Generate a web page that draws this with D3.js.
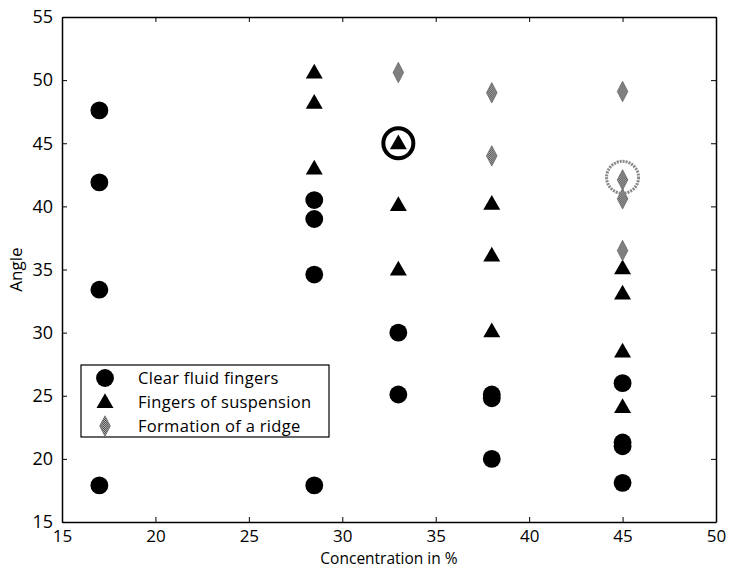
<!DOCTYPE html>
<html>
<head>
<meta charset="utf-8">
<script src="https://cdn.jsdelivr.net/npm/d3@7"></script>
<style>
  body { margin: 0; background: #fff; }
  svg text { font-family: "Open Sans", "DejaVu Sans", sans-serif; fill: #000; }
</style>
</head>
<body>
<div class="content"></div>
<script>
// data: [concentration %, angle]
const clearFluid = [
  [17, 47.6], [17, 41.9], [17, 33.4], [17, 17.9],
  [28.5, 40.5], [28.5, 39.0], [28.5, 34.6], [28.5, 17.9],
  [33, 30.0], [33, 25.1],
  [38, 25.1], [38, 24.8], [38, 20.0],
  [45, 26.0], [45, 21.3], [45, 21.0], [45, 18.1]
];
const suspension = [
  [28.5, 50.6], [28.5, 48.2], [28.5, 43.0],
  [33, 45.0], [33, 40.1], [33, 35.0],
  [38, 40.2], [38, 36.1], [38, 30.1],
  [45, 35.1], [45, 33.1], [45, 28.5], [45, 24.1]
];
const ridge = [
  [33, 50.6],
  [38, 49.0], [38, 44.0],
  [45, 49.1], [45, 42.1], [45, 40.6], [45, 36.5]
];
// highlighted points
const blackRing = [[33, 45.0]];
const greyRing = [[45, 42.3]];

const legendLabels = ['Clear fluid fingers', 'Fingers of suspension', 'Formation of a ridge'];
const xTicks = [15, 20, 25, 30, 35, 40, 45, 50];
const yTicks = [15, 20, 25, 30, 35, 40, 45, 50, 55];

function main() {
  const svgW = 729, svgH = 569;
  const left = 62, right = 716, top = 17, bottom = 522;

  const svg = d3.select('.content').append('svg')
    .attr('width', svgW)
    .attr('height', svgH);

  // dithered grey for the ridge markers
  const pat = svg.append('defs').append('pattern')
    .attr('id', 'dither')
    .attr('width', 2).attr('height', 2)
    .attr('patternUnits', 'userSpaceOnUse');
  pat.append('rect').attr('width', 2).attr('height', 2).attr('fill', '#bbb');
  pat.append('rect').attr('width', 1).attr('height', 1).attr('fill', '#444');
  pat.append('rect').attr('x', 1).attr('y', 1).attr('width', 1).attr('height', 1).attr('fill', '#444');

  const x = d3.scaleLinear().domain([15, 50]).range([left, right]);
  const y = d3.scaleLinear().domain([15, 55]).range([bottom, top]);

  // axes, ticks pointing inward on all four sides
  const tl = 5;
  svg.append('g')
    .attr('transform', `translate(0,${bottom})`)
    .call(d3.axisBottom(x).tickValues(xTicks).tickSizeInner(-tl).tickSizeOuter(0).tickPadding(8))
    .call(g => g.select('.domain').attr('stroke-width', 1.5))
    .call(g => g.selectAll('.tick text').attr('font-size', 17));
  svg.append('g')
    .attr('transform', `translate(0,${top})`)
    .call(d3.axisTop(x).tickValues(xTicks).tickSizeInner(-tl).tickSizeOuter(0).tickFormat(''))
    .call(g => g.select('.domain').attr('stroke-width', 1.5));
  svg.append('g')
    .attr('transform', `translate(${left},0)`)
    .call(d3.axisLeft(y).tickValues(yTicks).tickSizeInner(-tl).tickSizeOuter(0).tickPadding(9))
    .call(g => g.select('.domain').attr('stroke-width', 1.5))
    .call(g => g.selectAll('.tick text').attr('font-size', 18));
  svg.append('g')
    .attr('transform', `translate(${right},0)`)
    .call(d3.axisRight(y).tickValues(yTicks).tickSizeInner(-tl).tickSizeOuter(0).tickFormat(''))
    .call(g => g.select('.domain').attr('stroke-width', 1.5));

  svg.selectAll('.tick text').attr('font-family', '"Open Sans", sans-serif');

  // markers
  const circleSym = d3.symbol().type(d3.symbolCircle).size(250);
  const triSym = d3.symbol().type(d3.symbolTriangle).size(125);
  const diaSym = d3.symbol().type(d3.symbolDiamond).size(120);

  svg.append('g').selectAll('path').data(clearFluid).join('path')
    .attr('transform', d => `translate(${x(d[0])},${y(d[1])})`)
    .attr('d', circleSym)
    .attr('fill', '#000');

  svg.append('g').selectAll('path').data(suspension).join('path')
    .attr('transform', d => `translate(${x(d[0])},${y(d[1]) + 1})`)
    .attr('d', triSym)
    .attr('fill', '#000');

  svg.append('g').selectAll('path').data(ridge).join('path')
    .attr('transform', d => `translate(${x(d[0])},${y(d[1])}) scale(0.9,1)`)
    .attr('d', diaSym)
    .attr('fill', 'url(#dither)')
    .attr('stroke', '#666')
    .attr('stroke-width', 0.8);

  svg.append('g').selectAll('circle').data(blackRing).join('circle')
    .attr('cx', d => x(d[0])).attr('cy', d => y(d[1]))
    .attr('r', 15)
    .attr('fill', 'none')
    .attr('stroke', '#000')
    .attr('stroke-width', 4);

  svg.append('g').selectAll('circle').data(greyRing).join('circle')
    .attr('cx', d => x(d[0])).attr('cy', d => y(d[1]))
    .attr('r', 16)
    .attr('fill', 'none')
    .attr('stroke', '#888')
    .attr('stroke-width', 3)
    .attr('stroke-dasharray', '2,1');

  // legend
  const lg = svg.append('g').attr('transform', 'translate(81,365)');
  lg.append('rect')
    .attr('width', 248).attr('height', 72)
    .attr('fill', '#fff').attr('stroke', '#000').attr('stroke-width', 1.2);
  const legendSyms = [circleSym, triSym, diaSym];
  legendLabels.forEach((lab, i) => {
    const yy = 13 + i * 24;
    const p = lg.append('path')
      .attr('transform', `translate(24,${yy + (i === 1 ? 1 : 0)})` + (i === 2 ? ' scale(0.9,1)' : ''))
      .attr('d', legendSyms[i]);
    if (i === 2) p.attr('fill', 'url(#dither)').attr('stroke', '#666').attr('stroke-width', 0.8);
    else p.attr('fill', '#000');
    lg.append('text')
      .attr('x', 57).attr('y', yy + 6)
      .attr('font-size', 16.5)
      .attr('letter-spacing', 0.3)
      .text(lab);
  });

  // axis labels
  svg.append('text')
    .attr('x', (left + right) / 2).attr('y', 564)
    .attr('text-anchor', 'middle')
    .attr('font-size', 15.5)
    .text('Concentration in %');
  svg.append('text')
    .attr('transform', `translate(22,${(top + bottom) / 2}) rotate(-90)`)
    .attr('text-anchor', 'middle')
    .attr('font-size', 17)
    .text('Angle');
}
main();
</script>
</body>
</html>
